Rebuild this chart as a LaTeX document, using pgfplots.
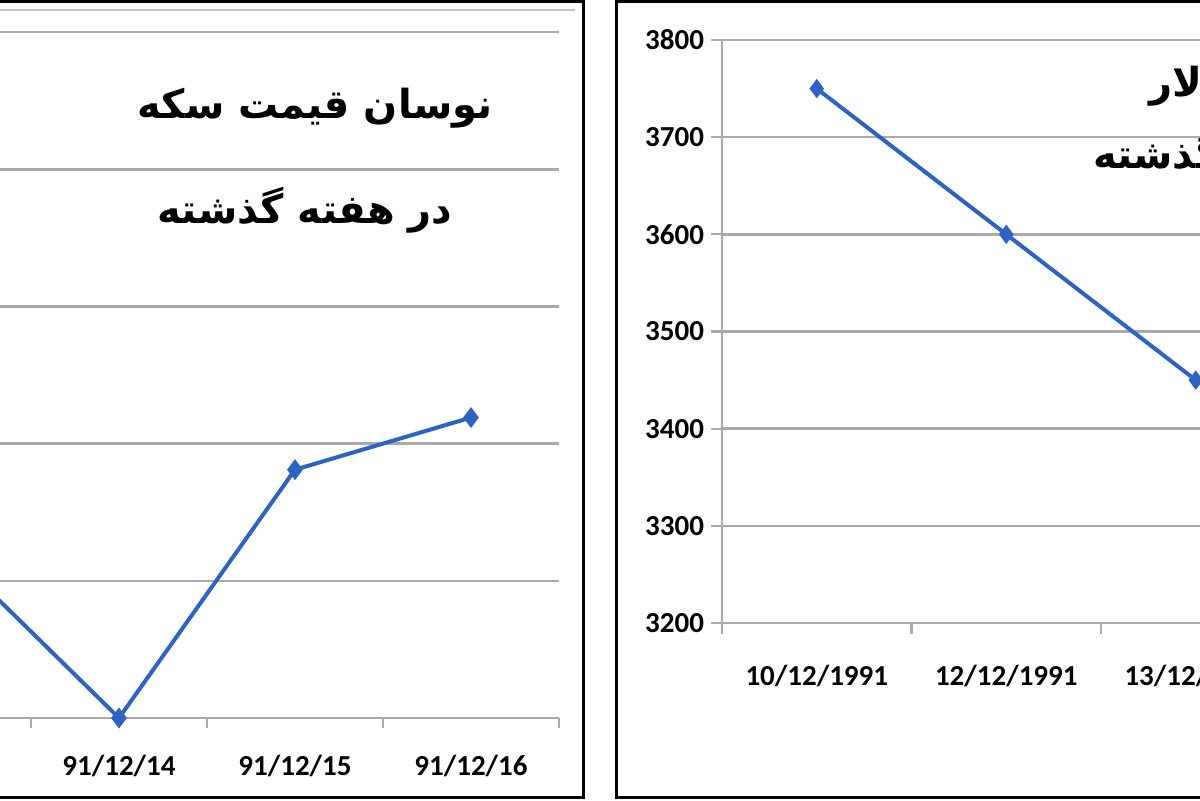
\documentclass[border=0pt]{standalone}
\usepackage{fontspec}
\usepackage{pgfplots}
\pgfplotsset{compat=1.18}
\setmainfont{Carlito}
\newfontfamily\arabicfont[Script=Arabic]{DejaVu Sans}
\TeXXeTstate=1
\definecolor{lineblue}{RGB}{45,100,195}
\definecolor{gridgray}{RGB}{170,170,170}
\begin{document}
\begin{tikzpicture}
\useasboundingbox (0,0) rectangle (600pt,400pt);
\clip (0,0) rectangle (600pt,400pt);
\fill[white] (0,0) rectangle (600pt,400pt);
% panel frames
\draw[black, line width=1.6pt] (-20pt,399.4pt) -- (291.8pt,399.4pt) -- (291.8pt,1.2pt) -- (-20pt,1.2pt);
\draw[black, line width=1.6pt] (620pt,399.4pt) -- (308.4pt,399.4pt) -- (308.4pt,1.2pt) -- (620pt,1.2pt);
\draw[gridgray!70, line width=0.8pt] (0pt,395pt) -- (287.5pt,395pt);

% left chart: coin price (its y axis lies outside the visible crop)
\begin{axis}[
  at={(-72.5pt,41pt)}, anchor=south west,
  scale only axis, width=352pt, height=343pt,
  xmin=12.5, xmax=16.5, ymin=1300, ymax=1350,
  xtick={12.5,13.5,14.5,15.5,16.5},
  x tick label as interval,
  xticklabels={91/12/13,91/12/14,91/12/15,91/12/16},
  ytick={1300,1310,1320,1330,1340,1350},
  yticklabels={},
  ymajorgrids,
  grid style={gridgray, line width=1.3pt},
  axis x line=bottom, axis y line=left,
  axis line style={gridgray, line width=1.3pt, -},
  tick align=outside,
  major tick length=5pt,
  tick style={gridgray, line width=1.1pt},
  /pgf/number format/assume math mode=true,
  /pgf/number format/1000 sep={},
  xticklabel style={font=\fontsize{14.5}{16}\selectfont\bfseries, text=black, yshift=-10pt},
  clip=false,
]
\addplot[lineblue, line width=2pt, mark=diamond*, mark size=3.6pt, mark options={fill=lineblue, draw=lineblue}]
  coordinates {(13,1312.6) (14,1300) (15,1318.1) (16,1321.9)};
\end{axis}
\node[font=\arabicfont\bfseries\fontsize{20}{23}\selectfont, anchor=center] at (157.5pt,346pt) {\beginR نوسان قیمت سکه\endR};
\node[font=\arabicfont\bfseries\fontsize{20}{23}\selectfont, anchor=center] at (152.5pt,295pt) {\beginR در هفته گذشته\endR};

% right chart: dollar price
\begin{axis}[
  at={(361pt,88.5pt)}, anchor=south west,
  scale only axis, width=284.25pt, height=291.5pt,
  xmin=0.5, xmax=3.5, ymin=3200, ymax=3800,
  xtick={0.5,1.5,2.5,3.5},
  x tick label as interval,
  xticklabels={10/12/1991,12/12/1991,13/12/1991},
  ytick={3200,3300,3400,3500,3600,3700,3800},
  ymajorgrids,
  grid style={gridgray, line width=1.3pt},
  axis x line=bottom, axis y line=left,
  axis line style={gridgray, line width=1.3pt, -},
  tick align=outside,
  major tick length=5.5pt,
  tick style={gridgray, line width=1.1pt},
  /pgf/number format/assume math mode=true,
  /pgf/number format/1000 sep={},
  xticklabel style={font=\fontsize{14.5}{16}\selectfont\bfseries, text=black, yshift=-12pt},
  yticklabel style={font=\fontsize{14.5}{16}\selectfont\bfseries, text=black},
  clip=false,
]
\addplot[lineblue, line width=2pt, mark=diamond*, mark size=3.2pt, mark options={fill=lineblue, draw=lineblue}]
  coordinates {(1,3750) (2,3600) (3,3450)};
\end{axis}
\node[font=\arabicfont\bfseries\fontsize{20}{23}\selectfont, anchor=base west] at (571pt,352pt) {\beginR نوسان قیمت دلار\endR};
\node[font=\arabicfont\bfseries\fontsize{20}{23}\selectfont, anchor=base west] at (543pt,316pt) {\beginR در هفته گذشته\endR};
\end{tikzpicture}
\end{document}
